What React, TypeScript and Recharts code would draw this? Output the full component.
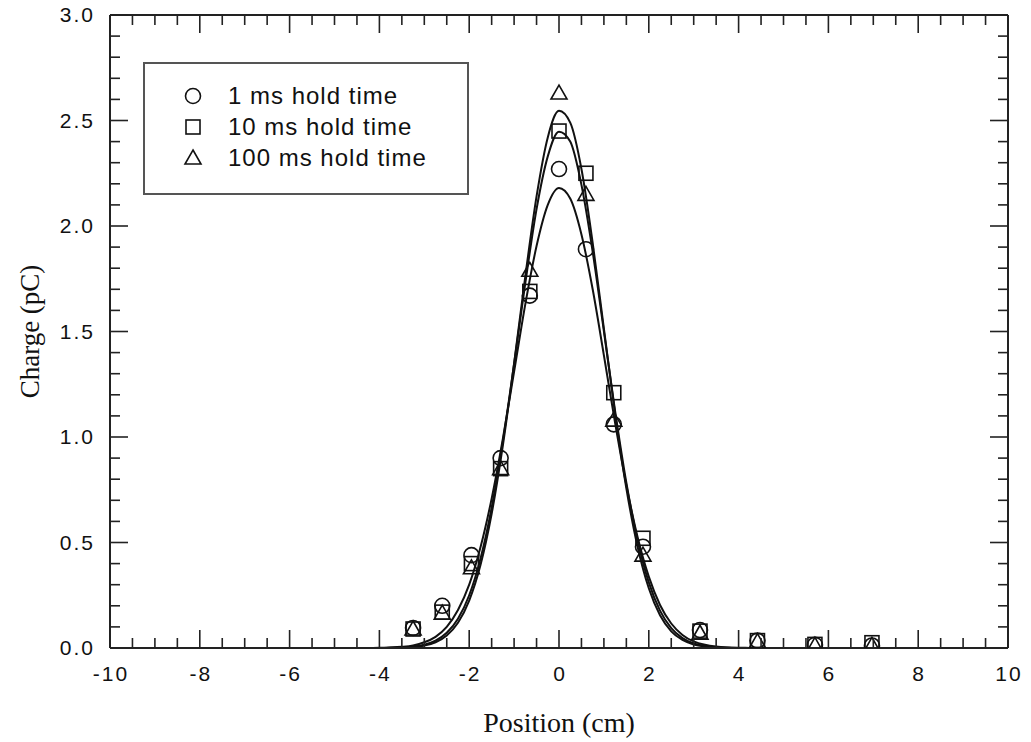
import React from "react";
import {
  ComposedChart,
  Line,
  Scatter,
  XAxis,
  YAxis,
} from "recharts";

// measured positions (cm) and charges (pC)
const positions = [-3.25, -2.6, -1.95, -1.3, -0.65, 0, 0.6, 1.22, 1.87, 3.14, 4.42, 5.7, 6.97];
const charge1ms = [0.095, 0.2, 0.44, 0.9, 1.67, 2.27, 1.89, 1.06, 0.48, 0.085, 0.035, 0.015, 0.012];
const charge10ms = [0.09, 0.17, 0.4, 0.85, 1.69, 2.45, 2.25, 1.21, 0.52, 0.08, 0.035, 0.017, 0.025];
const charge100ms = [0.09, 0.165, 0.38, 0.85, 1.79, 2.63, 2.15, 1.08, 0.44, 0.07, 0.03, 0.012, 0.012];

// fitted curves
const fitPositions = [
  -4.5, -4.25, -4, -3.75, -3.5, -3.25, -3, -2.75, -2.5, -2.25, -2, -1.75, -1.5, -1.25, -1, -0.75,
  -0.5, -0.25, 0, 0.25, 0.5, 0.75, 1, 1.25, 1.5, 1.75, 2, 2.25, 2.5, 2.75, 3, 3.25, 3.5, 3.75, 4,
  4.25, 4.5,
];
const fit1ms = [
  0.0001, 0.0003, 0.0009, 0.0023, 0.0055, 0.012, 0.027, 0.053, 0.1, 0.18, 0.3, 0.476, 0.708, 0.992,
  1.31, 1.63, 1.905, 2.1, 2.18, 2.13, 1.96, 1.7, 1.387, 1.066, 0.772, 0.526, 0.338, 0.204, 0.116,
  0.062, 0.031, 0.015, 0.0067, 0.0028, 0.0011, 0.0004, 0.0001,
];
const fit10ms = [
  0, 0.0001, 0.0003, 0.001, 0.0026, 0.0067, 0.016, 0.035, 0.072, 0.139, 0.25, 0.422, 0.665, 0.98,
  1.347, 1.73, 2.08, 2.33, 2.447, 2.4, 2.195, 1.878, 1.501, 1.122, 0.783, 0.511, 0.311, 0.177,
  0.094, 0.047, 0.022, 0.0095, 0.0038, 0.0015, 0.0005, 0.0002, 0,
];
const fit100ms = [
  0, 0.0001, 0.0002, 0.0006, 0.0018, 0.0047, 0.0118, 0.0274, 0.0596, 0.12, 0.225, 0.392, 0.636,
  0.96, 1.349, 1.762, 2.14, 2.42, 2.546, 2.49, 2.27, 1.92, 1.514, 1.11, 0.757, 0.48, 0.283, 0.155,
  0.079, 0.038, 0.0167, 0.0069, 0.0026, 0.0009, 0.0003, 0.0001, 0,
];

const seriesNames = ["1 ms hold time", "10 ms hold time", "100 ms hold time"];

const xMajorTicks = [-10, -8, -6, -4, -2, 0, 2, 4, 6, 8, 10];
const yMajorTicks = [0, 0.5, 1, 1.5, 2, 2.5, 3];
const xAllTicks = Array.from({ length: 41 }, (_, i) => -10 + i * 0.5);
const yAllTicks = Array.from({ length: 31 }, (_, i) => i / 10);

const INK = "#111";
const FRAME = "#222";
const TICK_FONT = "'Liberation Sans', Arial, sans-serif";
const TITLE_FONT = "'Liberation Serif', 'Times New Roman', serif";

const toPoints = (xs: number[], ys: number[]) => xs.map((x, i) => ({ x, y: ys[i] }));

const isMajor = (list: number[], v: number) => list.some((m) => Math.abs(m - v) < 1e-6);

function BottomTick(props: any) {
  const { x, y, payload } = props;
  const major = isMajor(xMajorTicks, payload.value);
  return (
    <g>
      <line x1={x} x2={x} y1={y} y2={y - (major ? 18 : 10)} stroke={FRAME} strokeWidth={1.6} />
      {major && (
        <text
          x={x + 1}
          y={y + 33}
          textAnchor="middle"
          fontFamily={TICK_FONT}
          fontSize={21}
          letterSpacing={2}
          fill={INK}
        >
          {payload.value}
        </text>
      )}
    </g>
  );
}

function TopTick(props: any) {
  const { x, y, payload } = props;
  const major = isMajor(xMajorTicks, payload.value);
  return <line x1={x} x2={x} y1={y} y2={y + (major ? 18 : 10)} stroke={FRAME} strokeWidth={1.6} />;
}

function LeftTick(props: any) {
  const { x, y, payload } = props;
  const major = isMajor(yMajorTicks, payload.value);
  return (
    <g>
      <line x1={x} x2={x + (major ? 18 : 10)} y1={y} y2={y} stroke={FRAME} strokeWidth={1.6} />
      {major && (
        <text
          x={x - 15}
          y={y + 7}
          textAnchor="end"
          fontFamily={TICK_FONT}
          fontSize={21}
          letterSpacing={2}
          fill={INK}
        >
          {Number(payload.value).toFixed(1)}
        </text>
      )}
    </g>
  );
}

function RightTick(props: any) {
  const { x, y, payload } = props;
  const major = isMajor(yMajorTicks, payload.value);
  return <line x1={x} x2={x - (major ? 18 : 10)} y1={y} y2={y} stroke={FRAME} strokeWidth={1.6} />;
}

function CircleMark({ cx, cy }: any) {
  return <circle cx={cx} cy={cy} r={7.5} fill="none" stroke={INK} strokeWidth={1.6} />;
}

function SquareMark({ cx, cy }: any) {
  return <rect x={cx - 7} y={cy - 7} width={14} height={14} fill="none" stroke={INK} strokeWidth={1.6} />;
}

function TriangleMark({ cx, cy }: any) {
  const pts = `${cx},${cy - 8} ${cx + 8},${cy + 6} ${cx - 8},${cy + 6}`;
  return <polygon points={pts} fill="none" stroke={INK} strokeWidth={1.6} />;
}

function LegendBox() {
  const marks = [
    <circle cx={10} cy={10} r={7.5} fill="none" stroke={INK} strokeWidth={1.6} />,
    <rect x={3} y={3} width={14} height={14} fill="none" stroke={INK} strokeWidth={1.6} />,
    <polygon points="10,2 18,16 2,16" fill="none" stroke={INK} strokeWidth={1.6} />,
  ];
  return (
    <div
      style={{
        position: "absolute",
        left: 143,
        top: 62,
        width: 322,
        height: 129,
        border: "2px solid #555",
        background: "#fff",
        fontFamily: TICK_FONT,
        fontSize: 24,
        letterSpacing: 1,
        color: INK,
      }}
    >
      {seriesNames.map((name, i) => (
        <div
          key={name}
          style={{
            position: "absolute",
            left: 38,
            top: 18 + i * 31,
            height: 28,
            display: "flex",
            alignItems: "center",
            whiteSpace: "nowrap",
          }}
        >
          <svg width={20} height={20} style={{ marginRight: 25, overflow: "visible" }}>
            {marks[i]}
          </svg>
          {name}
        </div>
      ))}
    </div>
  );
}

export default function App() {
  return (
    <div style={{ position: "absolute", left: 0, top: 0, width: 1031, height: 742, background: "#fff" }}>
      <ComposedChart width={1031} height={742} margin={{ top: 14, right: 22, bottom: 14, left: 10 }}>
        <XAxis
          dataKey="x"
          type="number"
          domain={[-10, 10]}
          ticks={xAllTicks}
          interval={0}
          tickSize={0}
          tickMargin={0}
          height={80}
          axisLine={{ stroke: FRAME, strokeWidth: 2 }}
          tickLine={false}
          tick={(p: any) => <BottomTick {...p} />}
          allowDataOverflow
          label={{
            content: (p: any) => {
              const vb = p.viewBox;
              return (
                <text
                  x={vb.x + vb.width / 2}
                  y={732}
                  textAnchor="middle"
                  fontFamily={TITLE_FONT}
                  fontSize={28}
                  fill={INK}
                >
                  Position (cm)
                </text>
              );
            },
          }}
        />
        <XAxis
          xAxisId="top"
          orientation="top"
          dataKey="x"
          type="number"
          domain={[-10, 10]}
          ticks={xAllTicks}
          interval={0}
          tickSize={0}
          tickMargin={0}
          height={1}
          axisLine={{ stroke: FRAME, strokeWidth: 2 }}
          tickLine={false}
          tick={(p: any) => <TopTick {...p} />}
          allowDataOverflow
        />
        <YAxis
          type="number"
          domain={[0, 3]}
          ticks={yAllTicks}
          interval={0}
          tickSize={0}
          tickMargin={0}
          width={100}
          axisLine={{ stroke: FRAME, strokeWidth: 2 }}
          tickLine={false}
          tick={(p: any) => <LeftTick {...p} />}
          allowDataOverflow
          label={{
            content: (p: any) => {
              const vb = p.viewBox;
              const cy = vb.y + vb.height / 2;
              return (
                <text
                  x={39}
                  y={cy}
                  transform={`rotate(-90, 39, ${cy})`}
                  textAnchor="middle"
                  fontFamily={TITLE_FONT}
                  fontSize={27}
                  fill={INK}
                >
                  Charge (pC)
                </text>
              );
            },
          }}
        />
        <YAxis
          yAxisId="right"
          orientation="right"
          type="number"
          domain={[0, 3]}
          ticks={yAllTicks}
          interval={0}
          tickSize={0}
          tickMargin={0}
          width={1}
          axisLine={{ stroke: FRAME, strokeWidth: 2 }}
          tickLine={false}
          tick={(p: any) => <RightTick {...p} />}
          allowDataOverflow
        />
        {/* invisible series so the mirrored top/right axes get drawn */}
        <Line
          xAxisId="top"
          yAxisId="right"
          data={toPoints(fitPositions, fit1ms)}
          dataKey="y"
          dot={false}
          stroke="none"
          isAnimationActive={false}
        />
        <Line data={toPoints(fitPositions, fit1ms)} dataKey="y" type="monotone" dot={false} stroke={INK} strokeWidth={2} isAnimationActive={false} />
        <Line data={toPoints(fitPositions, fit10ms)} dataKey="y" type="monotone" dot={false} stroke={INK} strokeWidth={2} isAnimationActive={false} />
        <Line data={toPoints(fitPositions, fit100ms)} dataKey="y" type="monotone" dot={false} stroke={INK} strokeWidth={2} isAnimationActive={false} />
        <Scatter data={toPoints(positions, charge1ms)} dataKey="y" shape={(p: any) => <CircleMark {...p} />} isAnimationActive={false} />
        <Scatter data={toPoints(positions, charge10ms)} dataKey="y" shape={(p: any) => <SquareMark {...p} />} isAnimationActive={false} />
        <Scatter data={toPoints(positions, charge100ms)} dataKey="y" shape={(p: any) => <TriangleMark {...p} />} isAnimationActive={false} />
      </ComposedChart>
      <LegendBox />
    </div>
  );
}
